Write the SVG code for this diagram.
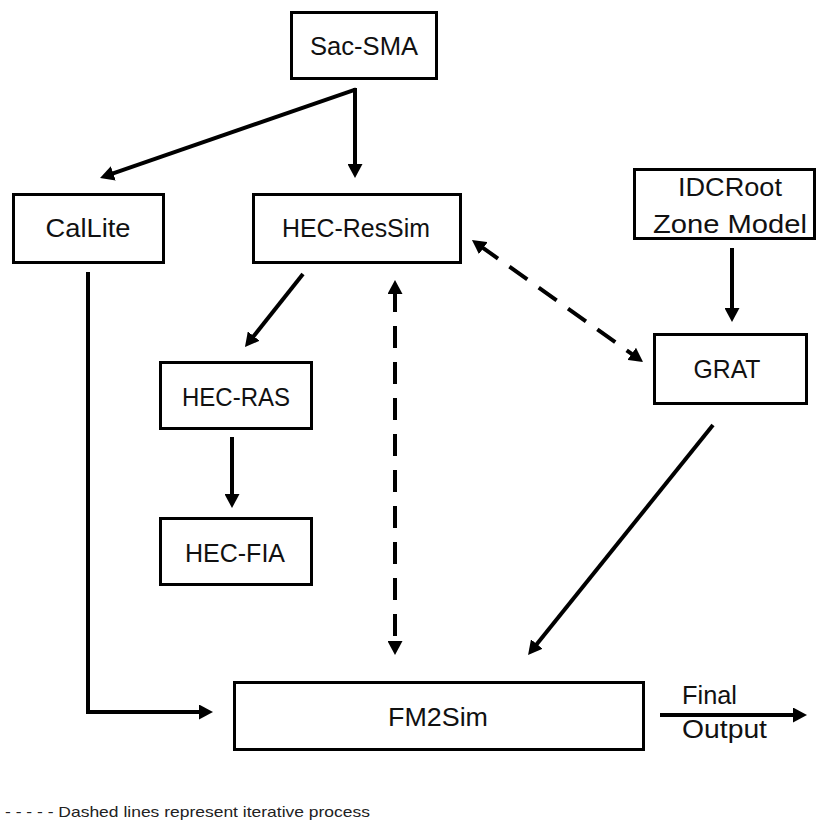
<svg xmlns="http://www.w3.org/2000/svg" width="817" height="822" viewBox="0 0 817 822">
<style>
.box{fill:#fff;stroke:#000;stroke-width:3}
.lbl{font-family:"Liberation Sans",Arial,sans-serif;font-size:26px;fill:#111;text-anchor:middle}
.side{font-family:"Liberation Sans",Arial,sans-serif;font-size:26px;fill:#111}
.ln{fill:none;stroke:#000;stroke-width:4}
.dash{stroke-dasharray:22 14}
.legend{font-family:"Liberation Sans",Arial,sans-serif;font-size:15px;fill:#222}
</style>
<defs>
<marker id="ah" markerUnits="userSpaceOnUse" markerWidth="14" markerHeight="15" refX="4" refY="7.5" orient="auto-start-reverse">
<path d="M0,0 L14,7.5 L0,15 z" fill="#000"/>
</marker>
</defs>
<rect width="817" height="822" fill="#fff"/>
<g id="connectors">
<line class="ln" x1="356" y1="89.3" x2="109.5" y2="174.7" marker-end="url(#ah)"/>
<line class="ln" x1="355" y1="88" x2="355" y2="168" marker-end="url(#ah)"/>
<line class="ln" x1="303" y1="274" x2="251.2" y2="339.2" marker-end="url(#ah)"/>
<line class="ln dash" x1="395" y1="290" x2="395" y2="645" marker-start="url(#ah)" marker-end="url(#ah)"/>
<line class="ln dash" x1="480.1" y1="245.8" x2="634.9" y2="356.2" marker-start="url(#ah)" marker-end="url(#ah)"/>
<line class="ln" x1="732" y1="248" x2="732" y2="312" marker-end="url(#ah)"/>
<line class="ln" x1="713" y1="425" x2="534.3" y2="647.2" marker-end="url(#ah)"/>
<line class="ln" x1="232" y1="437" x2="232" y2="498" marker-end="url(#ah)"/>
<path class="ln" d="M88,272 V712 H203" marker-end="url(#ah)"/>
<line class="ln" x1="660" y1="715" x2="797" y2="715" marker-end="url(#ah)"/>
</g>
<g id="sacsma"><rect class="box" x="291.5" y="12.5" width="145" height="66"/><text class="lbl" x="364" y="55" textLength="108" lengthAdjust="spacingAndGlyphs">Sac-SMA</text></g>
<g id="callite"><rect class="box" x="13.5" y="194.5" width="150" height="68"/><text class="lbl" x="88" y="237" textLength="85" lengthAdjust="spacingAndGlyphs">CalLite</text></g>
<g id="hecressim"><rect class="box" x="253.5" y="194.5" width="207" height="68"/><text class="lbl" x="356" y="237" textLength="148" lengthAdjust="spacingAndGlyphs">HEC-ResSim</text></g>
<g id="idcroot"><rect class="box" x="634.5" y="169.5" width="180" height="69"/><text class="lbl" x="730" y="196" textLength="104" lengthAdjust="spacingAndGlyphs">IDCRoot</text><text class="lbl" x="730" y="233" textLength="154" lengthAdjust="spacingAndGlyphs">Zone Model</text></g>
<g id="grat"><rect class="box" x="654.5" y="334.5" width="152" height="69"/><text class="lbl" x="727" y="378" textLength="67" lengthAdjust="spacingAndGlyphs">GRAT</text></g>
<g id="hecras"><rect class="box" x="160.5" y="362.5" width="151" height="66"/><text class="lbl" x="236" y="406" textLength="108" lengthAdjust="spacingAndGlyphs">HEC-RAS</text></g>
<g id="hecfia"><rect class="box" x="160.5" y="518.5" width="151" height="66"/><text class="lbl" x="235" y="562" textLength="100" lengthAdjust="spacingAndGlyphs">HEC-FIA</text></g>
<g id="fm2sim"><rect class="box" x="234.5" y="682.5" width="409" height="67"/><text class="lbl" x="438" y="726" textLength="100" lengthAdjust="spacingAndGlyphs">FM2Sim</text></g>
<g id="finaloutput"><text class="side" x="682" y="704" textLength="55" lengthAdjust="spacingAndGlyphs">Final</text><text class="side" x="682" y="738" textLength="85" lengthAdjust="spacingAndGlyphs">Output</text></g>
<g id="legend"><text class="legend" x="5" y="817" textLength="365" lengthAdjust="spacingAndGlyphs">- - - - - Dashed lines represent iterative process</text></g>
</svg>
